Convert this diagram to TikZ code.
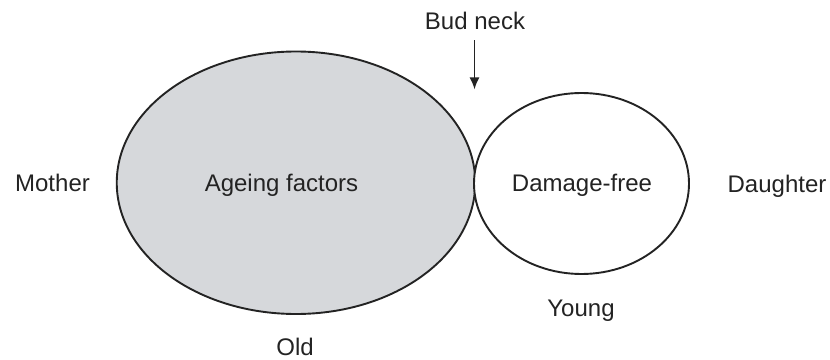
\documentclass[tikz,border=0pt]{standalone}
\usepackage{fontspec}
\setmainfont{Liberation Sans}
\usetikzlibrary{shapes.geometric,arrows.meta}
\definecolor{cellgray}{RGB}{214,216,219}
\definecolor{ink}{RGB}{35,35,35}
\tikzset{
  cell/.style={ellipse, draw=ink, line width=1.9pt, inner sep=0pt},
  lbl/.style={anchor=base, inner sep=0pt, text=ink, font=\fontsize{24}{28}\selectfont},
  budarrow/.style={draw=ink, line width=1.8pt, -{Latex[length=12pt,width=10pt]}}
}
\begin{document}
\begin{tikzpicture}[x=1pt,y=1pt]
\useasboundingbox (0,0) rectangle (830,359);
\node[cell, fill=cellgray, minimum width=358.5pt, minimum height=262.5pt] (mother) at (296,176.25) {};
\node[cell, fill=white, minimum width=215pt, minimum height=181pt] (daughter) at (581.5,175.5) {};
\node[lbl] (ageing) at (281.5,167) {Ageing factors};
\node[lbl] (damage) at (582,167) {Damage-free};
\node[lbl] (motherlbl) at (52.5,167) {Mother};
\node[lbl] (daughterlbl) at (777,166) {Daughter};
\node[lbl] (young) at (581,42) {Young};
\node[lbl] (old) at (295,4) {Old};
\node[lbl] (bud) at (475,329) {Bud neck};
\coordinate (arrowstart) at (474.5,318.5);
\coordinate (necktip) at (474.5,269.5);
\draw[budarrow] (arrowstart) -- (necktip);
\end{tikzpicture}
\end{document}
